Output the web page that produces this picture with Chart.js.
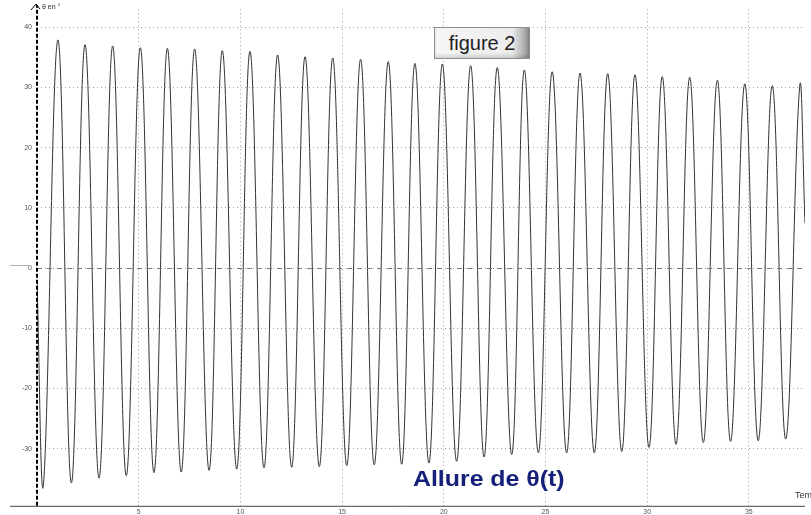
<!DOCTYPE html>
<html>
<head>
<meta charset="utf-8">
<script src="https://cdn.jsdelivr.net/npm/chart.js@4.4.0/dist/chart.umd.min.js"></script>
<style>
  html, body { margin: 0; padding: 0; background: #fff; overflow: hidden; }
  #wrap { position: relative; width: 811px; height: 515px; overflow: hidden; }
  #chart { position: absolute; left: 0; top: 0; }
  .lbl { position: absolute; font-family: Arial, "Liberation Sans", sans-serif; white-space: nowrap; }
  #fig {
    left: 434px; top: 27px; width: 94px; height: 30px;
    border: 1px solid #8c8c8c;
    background: linear-gradient(to right, #f6f6f6 0%, #ececec 82%, #b4b4b4 94%, #8a8a8a 100%);
    box-shadow: inset 0 -3px 3px rgba(0,0,0,0.12);
    font-size: 20px; line-height: 30px; text-align: center; color: #1e1e1e;
  }
  #allure {
    left: 413px; top: 466px; font-size: 22px; font-weight: bold; color: #16207a;
    transform: scaleX(1.13); transform-origin: left top;
  }
  #ylab { left: 42px; top: 3px; font-size: 7px; color: #333; }
  #xlab { left: 795px; top: 490px; font-size: 9px; color: #333; }
</style>
</head>
<body>
<div id="wrap">
  <canvas id="chart" width="811" height="515"></canvas>
  <div class="lbl" id="fig">figure 2</div>
  <div class="lbl" id="allure">Allure de θ(t)</div>
  <div class="lbl" id="ylab">θ en °</div>
  <div class="lbl" id="xlab">Temps en s</div>
</div>
<script>
// values (t in s, theta in degrees)
const startPoint = [0, -2];
const troughT = [0.31, 1.69, 3.05, 4.39, 5.75, 7.09, 8.46, 9.82, 11.16, 12.52, 13.88, 15.23, 16.58, 17.93,
                 19.27, 20.63, 21.98, 23.34, 24.65, 26.04, 27.40, 28.75, 30.09, 31.42, 32.76, 34.10, 35.46, 36.81];
const troughV = [-36.3, -35.7, -34.9, -34.5, -34.0, -33.9, -33.6, -33.4, -33.2, -33.1, -33.0, -32.8, -32.7, -32.6,
                 -32.4, -32.1, -31.4, -31.0, -30.7, -30.7, -30.7, -30.5, -29.8, -29.3, -29.0, -28.8, -28.7, -28.4];
const peakT = [1.03, 2.36, 3.72, 5.08, 6.41, 7.75, 9.11, 10.47, 11.83, 13.18, 14.54, 15.91, 17.27, 18.58,
               19.93, 21.32, 22.63, 23.96, 25.33, 26.70, 28.06, 29.40, 30.74, 32.09, 33.45, 34.80, 36.15, 37.50];
const peakV = [37.9, 37.1, 36.9, 36.6, 36.5, 36.4, 36.1, 36.0, 35.4, 35.1, 34.9, 34.7, 34.3, 34.0,
               33.9, 33.6, 33.3, 32.9, 32.6, 32.4, 32.3, 32.1, 31.8, 31.7, 31.2, 30.6, 30.3, 30.2];
const endPoint = [37.76, 7.4];

const xTicks = [5, 10, 15, 20, 25, 30, 35];
const yTicks = [-30, -20, -10, 0, 10, 20, 30, 40];
const xRange = [0, 37.76];
const yRange = [-39.5, 43];

// build the point list: trough, peak, trough, peak...
const points = [{ x: startPoint[0], y: startPoint[1] }];
troughT.forEach((t, i) => {
  points.push({ x: t, y: troughV[i] });
  points.push({ x: peakT[i], y: peakV[i] });
});
points.push({ x: endPoint[0], y: endPoint[1] });

// axes drawn by hand: dashed thick y axis with arrow, bottom axis, dashed zero line
const axesPlugin = {
  id: 'axes',
  afterDatasetsDraw(chart) {
    const { ctx, chartArea, scales } = chart;
    const x0 = scales.x.getPixelForValue(0);
    const yZero = scales.y.getPixelForValue(0);
    ctx.save();

    // zero line
    ctx.strokeStyle = '#7a7a7a';
    ctx.lineWidth = 1;
    ctx.setLineDash([5, 5]);
    ctx.beginPath();
    ctx.moveTo(x0, yZero + 0.5);
    ctx.lineTo(chartArea.right, yZero + 0.5);
    ctx.stroke();

    // little marker left of the axis at zero
    ctx.setLineDash([]);
    ctx.strokeStyle = '#a9b4bf';
    ctx.beginPath();
    ctx.moveTo(10, yZero - 2.5);
    ctx.lineTo(30, yZero - 2.5);
    ctx.stroke();

    // bottom axis
    ctx.strokeStyle = '#444';
    ctx.beginPath();
    ctx.moveTo(10, chartArea.bottom + 0.5);
    ctx.lineTo(chartArea.right, chartArea.bottom + 0.5);
    ctx.stroke();

    // y axis, thick dashed
    ctx.strokeStyle = '#000';
    ctx.lineWidth = 2;
    ctx.setLineDash([4, 2]);
    ctx.beginPath();
    ctx.moveTo(x0, chartArea.bottom);
    ctx.lineTo(x0, 5);
    ctx.stroke();

    // arrow head
    ctx.setLineDash([]);
    ctx.lineWidth = 1;
    ctx.beginPath();
    ctx.moveTo(x0 - 6, 10);
    ctx.lineTo(x0 - 1, 4);
    ctx.lineTo(x0 + 3, 9);
    ctx.stroke();
    ctx.restore();
  }
};

const tickFont = { family: 'Arial, "Liberation Sans", sans-serif', size: 7 };

new Chart(document.getElementById('chart'), {
  type: 'line',
  data: {
    datasets: [{
      data: points,
      borderColor: '#333',
      borderWidth: 1,
      pointRadius: 0,
      tension: 0.4,
      fill: false
    }]
  },
  options: {
    responsive: false,
    animation: false,
    layout: { padding: { top: 7, right: 6, left: 0, bottom: 0 } },
    plugins: { legend: { display: false }, tooltip: { enabled: false } },
    scales: {
      x: {
        type: 'linear',
        min: xRange[0],
        max: xRange[1],
        afterBuildTicks: s => { s.ticks = xTicks.map(v => ({ value: v })); },
        afterFit: s => { s.height = 9; },
        ticks: { font: tickFont, color: '#555', padding: 2, maxRotation: 0 },
        grid: { color: '#a0a0a0', lineWidth: 1, drawTicks: false },
        border: { display: false, dash: [1, 3] }
      },
      y: {
        min: yRange[0],
        max: yRange[1],
        afterBuildTicks: s => { s.ticks = yTicks.map(v => ({ value: v })); },
        afterFit: s => { s.width = 37; },
        ticks: { font: tickFont, color: '#555', padding: 5 },
        grid: { color: '#a0a0a0', lineWidth: 1, drawTicks: false },
        border: { display: false, dash: [1, 3] }
      }
    }
  },
  plugins: [axesPlugin]
});
</script>
</body>
</html>
